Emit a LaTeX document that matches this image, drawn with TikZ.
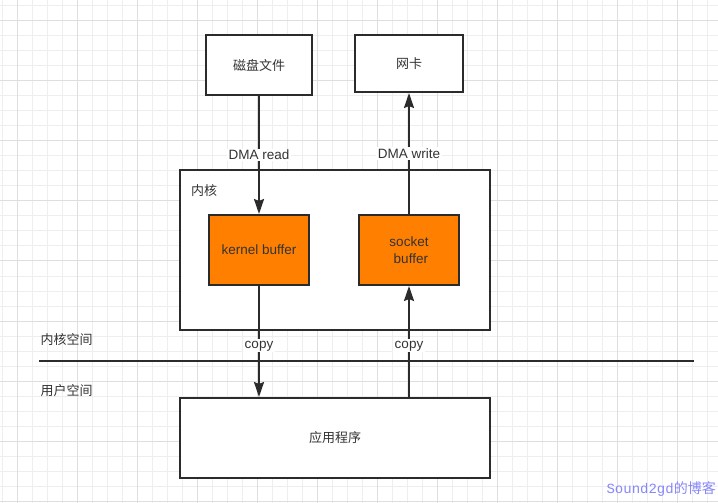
\documentclass[tikz,border=0pt]{standalone}
\usepackage{fontspec}
\setmainfont{Liberation Sans}
\newfontfamily\cjk{Noto Sans CJK SC}
\newfontfamily\wmmono{Liberation Mono}
\usetikzlibrary{arrows.meta}
\definecolor{ink}{HTML}{2B2B2B}
\definecolor{txt}{HTML}{333333}
\definecolor{bufferfill}{HTML}{FF7F00}
\definecolor{gridminor}{HTML}{EEEEEE}
\definecolor{gridmajor}{HTML}{DEDEDE}
\definecolor{wmark}{RGB}{135,135,250}
\tikzset{
  box/.style={draw=ink, line width=2bp, fill=white, inner sep=0pt,
              text=txt, font=\cjk\fontsize{13bp}{15bp}\selectfont},
  bufbox/.style={box, fill=bufferfill, font=\fontsize{13.5bp}{16.5bp}\selectfont,
                 minimum width=100bp, minimum height=70bp},
  flow/.style={draw=ink, line width=2bp,
               -{Stealth[length=15bp,width=10bp,inset=2bp]}},
  tag/.style={fill=white, text=txt, inner sep=1.5bp,
              font=\fontsize{13.5bp}{15bp}\selectfont},
  zone/.style={text=txt, inner sep=0pt, font=\cjk\fontsize{13bp}{15bp}\selectfont},
}
\begin{document}
\begin{tikzpicture}[x=1bp, y=-1bp]
  \useasboundingbox (0,0) rectangle (718,503);
  \fill[white] (0,0) rectangle (718,503);
  % background grid
  \foreach \i in {0,...,47}
    \draw[gridminor, line width=1bp] ({2.3+15*\i},0) -- ++(0,503);
  \foreach \j in {0,...,33}
    \draw[gridminor, line width=1bp] (0,{6+15*\j}) -- ++(718,0);
  \foreach \i in {0,...,11}
    \draw[gridmajor, line width=1bp] ({17.3+60*\i},0) -- ++(0,503);
  \foreach \j in {0,...,8}
    \draw[gridmajor, line width=1bp] (0,{21+60*\j}) -- ++(718,0);

  % devices
  \node[box, minimum width=106bp, minimum height=60bp] (disk) at (259,65) {磁盘文件};
  \node[box, minimum width=108bp, minimum height=57bp] (nic) at (409,63.5) {网卡};

  % kernel area
  \node[box, minimum width=310bp, minimum height=160bp] (kernel) at (335,250) {};
  \node[zone] (kernellabel) at (204,191) {内核};
  \node[bufbox] (kbuf) at (259,250) {kernel buffer};
  \node[bufbox, align=center] (sbuf) at (409,250) {socket\\\ buffer};

  % user space
  \node[box, minimum width=310bp, minimum height=80bp] (app) at (335,438) {应用程序};

  % boundary between kernel and user space
  \coordinate (splitL) at (39,360.5);
  \coordinate (splitR) at (694,360.5);
  \draw[ink, line width=2bp] (splitL) -- (splitR);
  \node[zone, anchor=west] (kspace) at (40.5,340) {内核空间};
  \node[zone, anchor=west] (uspace) at (40.5,390.5) {用户空间};

  % data paths
  \draw[flow] (disk) -- node[tag, pos=0.5] (dmaread) {DMA read} (kbuf);
  \draw[flow] (sbuf) -- node[tag, pos=0.5] (dmawrite) {DMA write} (nic);
  \draw[flow] (kbuf.south) -- node[tag, pos=0.54] (copyin) {copy} (kbuf.south |- app.north);
  \draw[flow] (sbuf.south |- app.north) -- node[tag, pos=0.46] (copyout) {copy} (sbuf.south);

  % watermark
  \node[anchor=east, inner sep=0pt, text=wmark] (wm) at (716,489)
    {\wmmono\fontsize{14bp}{16bp}\selectfont Sound2gd\cjk 的博客};
\end{tikzpicture}
\end{document}
